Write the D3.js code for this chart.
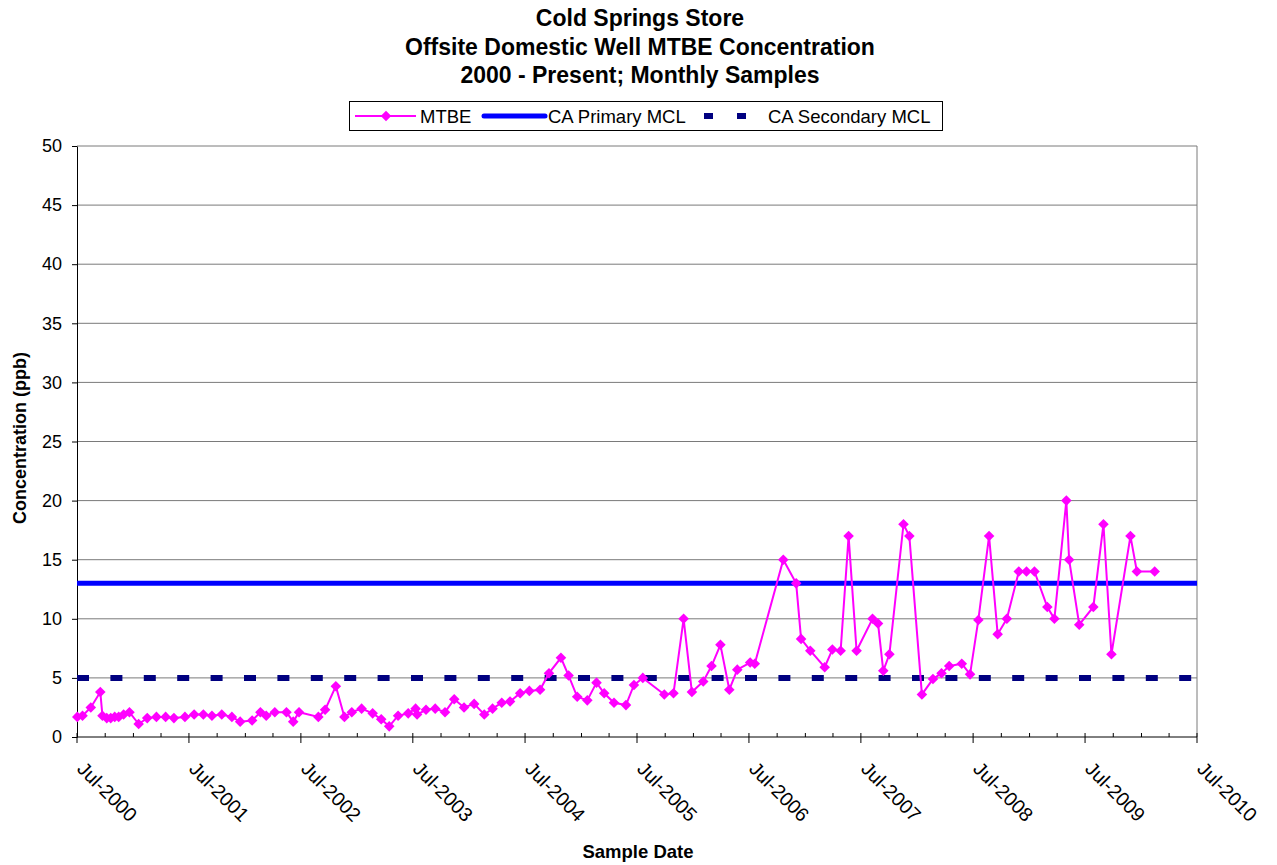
<!DOCTYPE html>
<html>
<head>
<meta charset="utf-8">
<script src="https://cdn.jsdelivr.net/npm/d3@7"></script>
<style>
  body { margin: 0; background: #fff; }
  text { font-family: "Liberation Sans", Arial, sans-serif; }
</style>
</head>
<body>
<div id="chart"></div>
<script>
const sampleDates = [
  "2000-07-02","2000-07-19","2000-08-15","2000-09-15","2000-09-22","2000-10-06","2000-10-19","2000-11-01",
  "2000-11-14","2000-11-30","2000-12-19","2001-01-18","2001-02-15","2001-03-17","2001-04-16","2001-05-13",
  "2001-06-18","2001-07-18","2001-08-17","2001-09-14","2001-10-16","2001-11-18","2001-12-15","2002-01-23",
  "2002-02-19","2002-03-10","2002-04-07","2002-05-15","2002-06-06","2002-06-25","2002-08-27","2002-09-18",
  "2002-10-23","2002-11-20","2002-12-14","2003-01-15","2003-02-20","2003-03-20","2003-04-15","2003-05-14",
  "2003-06-16","2003-07-10","2003-07-15","2003-08-13","2003-09-12","2003-10-14","2003-11-13","2003-12-15",
  "2004-01-17","2004-02-19","2004-03-17","2004-04-16","2004-05-13","2004-06-15","2004-07-15","2004-08-19",
  "2004-09-17","2004-10-26","2004-11-20","2004-12-18","2005-01-20","2005-02-19","2005-03-16","2005-04-17",
  "2005-05-26","2005-06-21","2005-07-20","2005-09-28","2005-10-28","2005-11-30","2005-12-27","2006-02-02",
  "2006-03-01","2006-03-30","2006-04-28","2006-05-24","2006-07-05","2006-07-20","2006-10-21","2006-12-02",
  "2006-12-18","2007-01-17","2007-03-05","2007-03-30","2007-04-26","2007-05-22","2007-06-17","2007-08-08",
  "2007-08-26","2007-09-12","2007-10-02","2007-11-17","2007-12-06","2008-01-16","2008-02-21","2008-03-20",
  "2008-04-14","2008-05-25","2008-06-21","2008-07-18","2008-08-22","2008-09-19","2008-10-19","2008-11-27",
  "2008-12-22","2009-01-17","2009-02-28","2009-03-23","2009-05-01","2009-05-10","2009-06-12","2009-07-28",
  "2009-08-30","2009-09-25","2009-11-26","2009-12-17","2010-02-13"
];
const mtbeValues = [
  1.7,1.8,2.5,3.8,1.8,1.6,1.6,1.7,
  1.7,1.9,2.1,1.1,1.6,1.7,1.7,1.6,
  1.7,1.9,1.9,1.8,1.9,1.7,1.3,1.4,
  2.1,1.8,2.1,2.1,1.3,2.1,1.7,2.3,
  4.3,1.7,2.1,2.4,2.0,1.5,0.9,1.8,
  2.0,2.4,1.9,2.3,2.4,2.1,3.2,2.5,
  2.8,1.9,2.4,2.9,3.0,3.7,3.9,4.0,
  5.4,6.7,5.2,3.4,3.1,4.6,3.7,2.9,
  2.7,4.4,5.0,3.6,3.7,10,3.8,4.7,
  6.0,7.8,4.0,5.7,6.3,6.2,15,13,
  8.3,7.3,5.9,7.4,7.3,17,7.3,10,
  9.6,5.6,7.0,18,17,3.6,4.9,5.4,
  6.0,6.2,5.3,9.9,17,8.7,10,14,
  14,14,11,10,20,15,9.5,11,
  18,7.0,17,14,14
];
const primaryMCL = 13;
const secondaryMCL = 5;
const yTicks = [0, 5, 10, 15, 20, 25, 30, 35, 40, 45, 50];
const titleLines = ["Cold Springs Store", "Offsite Domestic Well MTBE Concentration", "2000 - Present; Monthly Samples"];
const legendNames = ["MTBE", "CA Primary MCL", "CA Secondary MCL"];

const W = 1277, H = 865;
const margin = {top: 146, right: 80, bottom: 128, left: 77};
const width = W - margin.left - margin.right;
const height = H - margin.top - margin.bottom;

const parse = d3.timeParse("%Y-%m-%d");
const data = sampleDates.map((d, i) => ({date: parse(d), value: mtbeValues[i]}));

const svg = d3.select("#chart").append("svg")
    .attr("width", W)
    .attr("height", H);

const x = d3.scaleTime()
    .domain([new Date(2000, 6, 1), new Date(2010, 6, 1)])
    .range([0, width]);

const y = d3.scaleLinear()
    .domain([0, 50])
    .range([height, 0]);

const chart = svg.append("g")
    .attr("transform", `translate(${margin.left}, ${margin.top})`);

// gridlines
chart.append("g")
    .selectAll("line")
    .data(yTicks.filter(t => t > 0))
    .enter()
    .append("line")
    .attr("x1", 0)
    .attr("x2", width)
    .attr("y1", d => y(d))
    .attr("y2", d => y(d))
    .attr("stroke", "#7a7a7a")
    .attr("stroke-width", 1);

chart.append("line")
    .attr("x1", width).attr("x2", width)
    .attr("y1", 0).attr("y2", height)
    .attr("stroke", "#7a7a7a");

// y axis
const yAxis = chart.append("g")
    .call(d3.axisLeft(y).tickValues(yTicks).tickSize(5).tickSizeOuter(0).tickPadding(10));
yAxis.select(".domain").attr("stroke", "#000");
yAxis.selectAll("text")
    .style("font-size", "18px")
    .attr("fill", "#000");

// x axis
const minorTicks = d3.timeMonth.every(3).range(x.domain()[0], d3.timeDay.offset(x.domain()[1], 1));
const xAxis = chart.append("g")
    .attr("transform", `translate(0, ${height})`);
xAxis.append("line")
    .attr("x1", 0).attr("x2", width)
    .attr("stroke", "#000");
xAxis.selectAll(".minor")
    .data(minorTicks.filter(d => d.getMonth() !== 6))
    .enter()
    .append("line")
    .attr("x1", d => x(d)).attr("x2", d => x(d))
    .attr("y1", -4).attr("y2", 0)
    .attr("stroke", "#000");
const majorTicks = minorTicks.filter(d => d.getMonth() === 6);
xAxis.selectAll(".major")
    .data(majorTicks)
    .enter()
    .append("line")
    .attr("x1", d => x(d)).attr("x2", d => x(d))
    .attr("y1", -4).attr("y2", 6)
    .attr("stroke", "#000");
xAxis.selectAll(".lab")
    .data(majorTicks)
    .enter()
    .append("text")
    .attr("transform", d => `translate(${x(d) - 1}, 33) rotate(45)`)
    .style("font-size", "19.5px")
    .text(d => d3.timeFormat("%b-%Y")(d));

// secondary MCL
chart.append("line")
    .attr("x1", 0).attr("x2", width)
    .attr("y1", y(secondaryMCL)).attr("y2", y(secondaryMCL))
    .attr("stroke", "#000080")
    .attr("stroke-width", 6)
    .attr("stroke-dasharray", "12 21.4");

// primary MCL
chart.append("line")
    .attr("x1", 0).attr("x2", width)
    .attr("y1", y(primaryMCL)).attr("y2", y(primaryMCL))
    .attr("stroke", "#0000FF")
    .attr("stroke-width", 5);

// MTBE series
const line = d3.line()
    .x(d => x(d.date))
    .y(d => y(d.value));

chart.append("path")
    .datum(data)
    .attr("fill", "none")
    .attr("stroke", "#FF00FF")
    .attr("stroke-width", 2)
    .attr("d", line);

const diamond = d3.symbol(d3.symbolSquare, 56);
chart.selectAll(".pt")
    .data(data)
    .enter()
    .append("path")
    .attr("d", diamond)
    .attr("transform", d => `translate(${x(d.date)}, ${y(d.value)}) rotate(45)`)
    .attr("fill", "#FF00FF");

// titles
svg.append("g")
    .selectAll("text")
    .data(titleLines)
    .enter()
    .append("text")
    .attr("x", 640)
    .attr("y", (d, i) => [26, 54.5, 83][i])
    .attr("text-anchor", "middle")
    .style("font-size", "23px")
    .style("font-weight", "bold")
    .text(d => d);

svg.append("text")
    .attr("transform", `translate(26, 438) rotate(-90)`)
    .attr("text-anchor", "middle")
    .style("font-size", "18px")
    .style("font-weight", "bold")
    .text("Concentration (ppb)");

svg.append("text")
    .attr("x", 638)
    .attr("y", 858)
    .attr("text-anchor", "middle")
    .style("font-size", "18.5px")
    .style("font-weight", "bold")
    .text("Sample Date");

// legend
const legend = svg.append("g");
legend.append("rect")
    .attr("x", 349.5).attr("y", 101.5)
    .attr("width", 593).attr("height", 29)
    .attr("fill", "#fff")
    .attr("stroke", "#000");

legend.append("line")
    .attr("x1", 355).attr("x2", 416).attr("y1", 116).attr("y2", 116)
    .attr("stroke", "#FF00FF").attr("stroke-width", 2);
legend.append("path")
    .attr("d", diamond)
    .attr("transform", "translate(386, 116) rotate(45)")
    .attr("fill", "#FF00FF");
legend.append("line")
    .attr("x1", 484).attr("x2", 545).attr("y1", 116).attr("y2", 116)
    .attr("stroke", "#0000FF").attr("stroke-width", 5).attr("stroke-linecap", "round");
legend.selectAll(".dash")
    .data([704, 737])
    .enter()
    .append("rect")
    .attr("x", d => d).attr("y", 113)
    .attr("width", 9).attr("height", 6)
    .attr("fill", "#000080");

legend.selectAll(".ltext")
    .data(legendNames)
    .enter()
    .append("text")
    .attr("x", (d, i) => [420, 548, 768][i])
    .attr("y", 122.5)
    .style("font-size", "18.5px")
    .text(d => d);
</script>
</body>
</html>
